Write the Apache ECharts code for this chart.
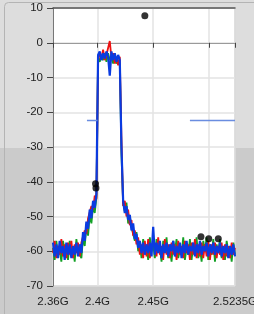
<!DOCTYPE html>
<html><head><meta charset="utf-8">
<script src="https://cdn.jsdelivr.net/npm/echarts@6/dist/echarts.min.js"></script>
<style>html,body{margin:0;padding:0;}#c{width:254px;height:314px;}</style>
</head><body><div id="c"></div>
<script>
// Frequency sampling grid (GHz)
const F_START = 2.36, F_STEP = 0.0015, N = 110;
const xTicks = [2.36, 2.4, 2.45, 2.5, 2.5235];
const xLabels = [2.36, 2.4, 2.45, 2.5235];
const yTicks = [-70, -60, -50, -40, -30, -20, -10, 0, 10];

const blueVals = [
-57.5,-61.5,-58,-62,-57,-60.5,-58.5,-62.5,-57.5,-61,
-58,-62,-58.5,-61,-57.5,-61.5,-58,-60.5,-54.5,-57,
-51.5,-53.5,-48,-50.5,-45.5,-47.5,-43.5,-3.5,-2.5,-5,
-3,-4.5,-2.5,-4,-9.5,-2.5,-5,-3,-5.5,-3.5,
-5,-30,-45.5,-49,-47,-51,-49.5,-54,-52,-56.5,
-55,-59,-57,-60.5,-57.5,-61,-58,-60.5,-57.5,-61.5,
-53,-61,-57.5,-60.5,-57,-62,-58,-60.5,-57.5,-61.5,
-58,-60,-57,-61.5,-58.5,-60.5,-57.5,-62,-58,-60.5,
-57,-61,-58.5,-60,-57.5,-61.5,-58,-60.5,-57,-61,
-58.5,-60,-57.5,-61.5,-58,-60.5,-57.5,-61,-58.5,-60.5,
-57.5,-61.5,-58.5,-60.5,-58,-62,-58.5,-61,-58,-61.5];

const redVals = [
-60.5,-57,-62,-58.5,-61,-56.5,-61.5,-58,-62,-57.5,
-61,-57,-62,-58,-60.5,-57.5,-61.5,-57.5,-58,-54,
-55,-50.5,-51,-47,-48,-44,-45,-5,-3,-4.5,
-2,-5,-3.5,-1.5,0.5,-4.5,-3,-6,-4,-6.5,
-4,-28,-47,-45.5,-50,-48,-52.5,-51,-55.5,-54,
-58,-56,-61,-58,-62,-57,-61.5,-56.5,-62,-58,
-57.5,-58,-61.5,-56,-61,-58.5,-62.5,-56.5,-61,-58,
-62,-57.5,-61,-58,-62.5,-57,-61,-58.5,-62,-57,
-60.5,-58,-62.5,-57.5,-61,-56.5,-62,-58,-61.5,-57.5,
-62,-58,-61.5,-57,-62.5,-58,-61,-57.5,-62,-58.5,
-61,-57.5,-62.5,-58,-61.5,-58.5,-62,-57.5,-61,-59];

const greenVals = [
-59,-62.5,-57,-61,-59.5,-63,-57,-60,-59,-62.5,
-57,-60.5,-59,-63,-56.5,-60,-59.5,-62,-56,-58.5,
-53,-55.5,-49.5,-52,-47,-49,-44.5,-4,-5.5,-3.5,
-5,-3,-5.5,-3,-5,-4,-6,-4.5,-6,-5,
-6,-32,-46,-48.5,-46,-52,-50,-53,-55,-57,
-54.5,-60,-58,-62,-56.5,-60,-59,-62.5,-56,-60,
-58,-62,-56.5,-60,-59,-63,-57,-60.5,-56,-62,
-59,-63,-57,-60,-56.5,-62,-59.5,-61,-56,-62.5,
-59,-61,-56.5,-62.5,-58,-60,-56,-62,-59,-63,
-57,-60,-56,-62.5,-59,-61,-56.5,-63,-58,-60.5,
-56.5,-62,-59,-62.5,-57,-60,-58.5,-63,-57.5,-61];

const markerFreqs = [2.4425, 2.3982, 2.3986, 2.4929, 2.4999, 2.5085];
const markerVals  = [7.8, -40.6, -41.8, -55.8, -56.4, -56.4];

const maskLeftFreqs = [2.3905, 2.4];
const maskRightFreqs = [2.483, 2.5235];
const maskLevel = -22.4;

function pairs(vals){ return vals.map((v,i)=>[+(F_START + i*F_STEP).toFixed(4), v]); }

const chart = echarts.init(document.getElementById('c'), null, {renderer:'canvas'});
const trace = (name, vals, color, w) => ({
  name, type:'line', data: pairs(vals), showSymbol:false, symbol:'none',
  lineStyle:{color, width:w}, itemStyle:{color}, animation:false, z:2
});
const FONT = 'Liberation Sans, Arial, sans-serif';
chart.setOption({
  animation:false,
  backgroundColor:{type:'linear',x:0,y:0,x2:0,y2:1,colorStops:[
    {offset:0,color:'#dddddd'},{offset:0.471,color:'#dddddd'},
    {offset:0.471,color:'#cbcbcb'},{offset:1,color:'#cbcbcb'}]},
  graphic:[{type:'rect',shape:{x:4.5,y:2.5,width:270,height:330,r:4},
    style:{fill:'none',stroke:'#b4b4b4',lineWidth:1},silent:true,z:-1}],
  grid:{left:53,right:19,top:8,bottom:28,show:true,backgroundColor:'#ffffff',
    borderColor:'#a8a8a8',borderWidth:1,containLabel:false,outerBoundsMode:'none'},
  xAxis:[{type:'value',min:2.36,max:2.5235,position:'bottom',
    axisLine:{show:true,lineStyle:{color:'#9a9a9a',width:1}},
    axisTick:{show:true,length:5,inside:false,customValues:xTicks,lineStyle:{color:'#444'}},
    axisLabel:{customValues:xLabels,margin:10,fontSize:11.5,fontFamily:FONT,color:'#222',
      formatter:v=>String(v)+'G',showMinLabel:true,showMaxLabel:true,hideOverlap:false},
    splitLine:{show:true,lineStyle:{color:'#e3e3e3',width:1.5}}},
   {type:'value',min:2.36,max:2.5235,position:'top',
    axisLine:{show:true,lineStyle:{color:'#555',width:1.5}},
    axisTick:{show:false},axisLabel:{show:false},splitLine:{show:false}}],
  yAxis:{type:'value',min:-70,max:10,interval:10,
    axisLine:{show:true,lineStyle:{color:'#777',width:1}},
    axisTick:{show:true,length:6,inside:false,lineStyle:{color:'#444'}},
    axisLabel:{margin:10,fontSize:11.5,fontFamily:FONT,color:'#222'},
    splitLine:{show:true,lineStyle:{color:'#e3e3e3',width:1.5}}},
  series:[
    trace('green', greenVals, '#12a025', 1.8),
    trace('red', redVals, '#ee1111', 1.8),
    trace('blue', blueVals, '#0a3be0', 2.2),
    {name:'maskL',type:'line',data:maskLeftFreqs.map(f=>[f,maskLevel]),showSymbol:false,symbol:'none',
      lineStyle:{color:'#6a8de0',width:1.5},z:3},
    {name:'maskR',type:'line',data:maskRightFreqs.map(f=>[f,maskLevel]),showSymbol:false,symbol:'none',
      lineStyle:{color:'#6a8de0',width:1.5},z:3},
    {name:'markers',type:'scatter',data:markerFreqs.map((f,i)=>[f,markerVals[i]]),
      symbolSize:7,itemStyle:{color:'#000'},z:5}
  ]
});
</script></body></html>
